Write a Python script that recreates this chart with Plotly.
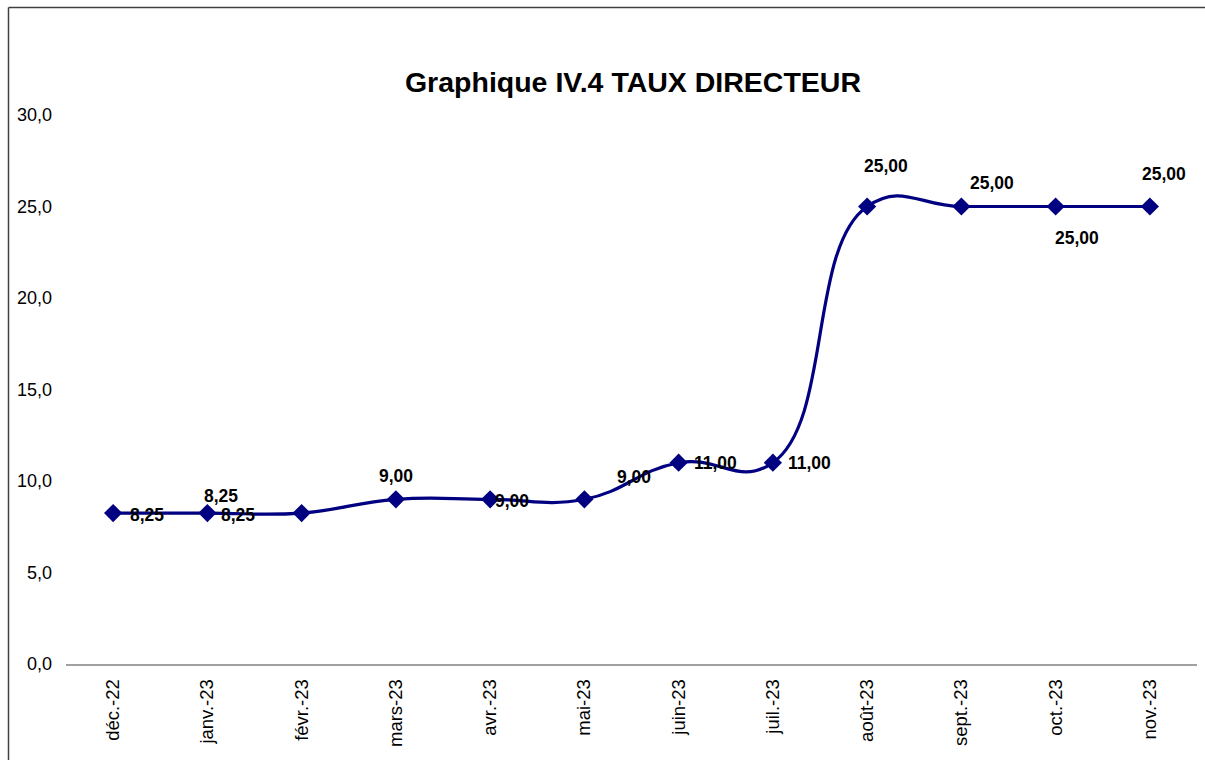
import plotly.graph_objects as go

months = ["déc.-22", "janv.-23", "févr.-23", "mars-23", "avr.-23", "mai-23",
          "juin-23", "juil.-23", "août-23", "sept.-23", "oct.-23", "nov.-23"]
taux = [8.25, 8.25, 8.25, 9.00, 9.00, 9.00, 11.00, 11.00, 25.00, 25.00, 25.00, 25.00]

# label pixel offsets (style)
label_dx = [34, 14, -64, 0, 22, 50, 37, 37, 19, 31, 21, 14]
label_dy = [-2, 17, -2, 23, -2, 22, 0, 0, 41, 24, -31, 33]

W, H = 1205, 760
L, R, T, B = 66, 8, 115, 96
pw, ph = W - L - R, H - T - B

fig = go.Figure()
fig.add_trace(go.Scatter(
    x=months, y=taux, mode="lines+markers",
    line=dict(color="#000080", width=3.2, shape="spline", smoothing=1.3),
    marker=dict(symbol="diamond", size=14, color="#000080"),
    showlegend=False, hoverinfo="skip",
))

for m, v, dx, dy in zip(months, taux, label_dx, label_dy):
    fig.add_annotation(x=m, y=v, text=f"{v:.2f}".replace(".", ","),
                       showarrow=False, xshift=dx, yshift=dy,
                       font=dict(family="Liberation Sans, Arial", size=17.5, color="black", weight="bold"))

def px_x(p):
    return (p - L) / pw

def px_y(p):
    return (H - B - p) / ph

# outer frame: top and left edges
fig.add_shape(type="line", xref="paper", yref="paper",
              x0=px_x(8.5), x1=px_x(1230), y0=px_y(7.5), y1=px_y(7.5),
              line=dict(color="#404040", width=1.5))
fig.add_shape(type="line", xref="paper", yref="paper",
              x0=px_x(8.5), x1=px_x(8.5), y0=px_y(7.5), y1=px_y(790),
              line=dict(color="#404040", width=1.5))

fig.update_layout(
    width=W, height=H,
    margin=dict(l=L, r=R, t=T, b=B),
    paper_bgcolor="white", plot_bgcolor="white",
    separators=", ",
    title=dict(text="<b>Graphique IV.4 TAUX DIRECTEUR</b>", x=633 / W, xanchor="center",
               y=1 - 82 / H, yanchor="middle",
               font=dict(family="Liberation Sans, Arial", size=28.5, color="black")),
    font=dict(family="Liberation Sans, Arial", size=18, color="black"),
    xaxis=dict(type="category", range=[-0.5, 11.5], showgrid=False, showline=True,
               linecolor="#a0a0a0", linewidth=1.5, tickangle=-90, ticks="",
               tickfont=dict(size=18.5), zeroline=False, ticklabelstandoff=6),
    yaxis=dict(range=[0, 30], dtick=5, tickformat=".1f", showgrid=False, showline=False,
               zeroline=False, ticks="", tickfont=dict(size=18), ticklabelstandoff=13),
)

fig.write_html("out.html", config={"displayModeBar": False},
               post_script="document.body.style.margin='0';")
